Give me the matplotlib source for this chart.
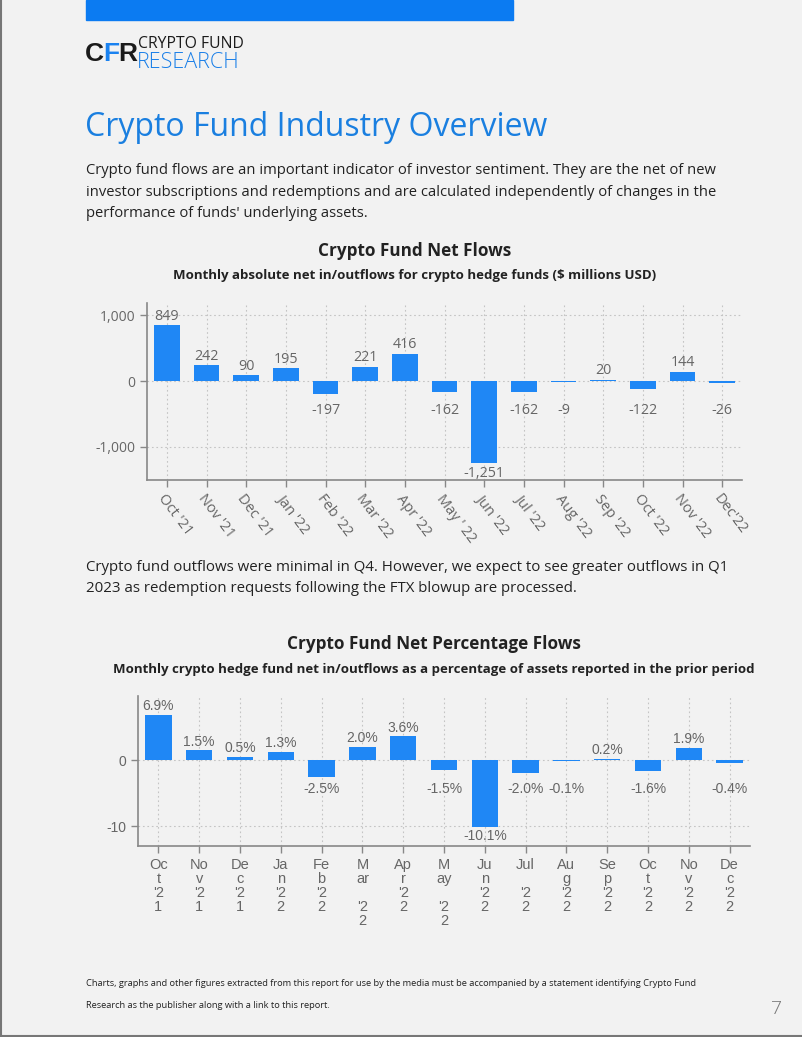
import matplotlib
matplotlib.use("Agg")
import matplotlib.pyplot as plt
from matplotlib.lines import Line2D

W, H = 802, 1037

months = ["Oct '21", "Nov '21", "Dec '21", "Jan '22", "Feb '22", "Mar '22", "Apr '22",
          "May ' 22", "Jun '22", "Jul '22", "Aug '22", "Sep '22", "Oct '22", "Nov '22", "Dec'22"]
net_flows = [849, 242, 90, 195, -197, 221, 416, -162, -1251, -162, -9, 20, -122, 144, -26]
net_flow_labels = ["849", "242", "90", "195", "-197", "221", "416", "-162", "-1,251",
                   "-162", "-9", "20", "-122", "144", "-26"]

pct_months = ["Oc\nt\n'2\n1", "No\nv\n'2\n1", "De\nc\n'2\n1", "Ja\nn\n'2\n2", "Fe\nb\n'2\n2",
              "M\nar\n\n'2\n2", "Ap\nr\n'2\n2", "M\nay\n\n'2\n2", "Ju\nn\n'2\n2", "Jul\n\n'2\n2",
              "Au\ng\n'2\n2", "Se\np\n'2\n2", "Oc\nt\n'2\n2", "No\nv\n'2\n2", "De\nc\n'2\n2"]
pct_flows = [6.9, 1.5, 0.5, 1.3, -2.5, 2.0, 3.6, -1.5, -10.1, -2.0, -0.1, 0.2, -1.6, 1.9, -0.4]

BG = "#f2f2f2"
BLUE = "#1f87f5"
TXT = "#222222"
GREY = "#666666"
ARIAL = ["Liberation Sans", "DejaVu Sans"]

plt.rcParams["font.family"] = ["Open Sans", "DejaVu Sans"]

fig = plt.figure(figsize=(W / 100, H / 100), dpi=100, facecolor=BG)


def px(x, y):
    return x / W, 1 - y / H


def ftext(x, y, s, **kw):
    fx, fy = px(x, y)
    return fig.text(fx, fy, s, **kw)


# page frame + header bar
fig.add_artist(Line2D([0.001, 0.001], [0, 1], color="#777777", lw=1.5, transform=fig.transFigure))
fig.add_artist(Line2D([0, 1], [0.001, 0.001], color="#777777", lw=1.5, transform=fig.transFigure))
fig.patches.append(plt.Rectangle(px(86, 20), (513 - 86) / W, 20 / H, transform=fig.transFigure,
                                 color="#0b7bf2", zorder=1))

# logo: C F R placed one after the other
renderer = fig.canvas.get_renderer()
lx = 85
for ch, col in [("C", "#1b1b1b"), ("F", "#1a82f0"), ("R", "#1b1b1b")]:
    t = ftext(lx, 54, ch, fontsize=19, fontweight="bold", color=col, va="center", ha="left",
              family=ARIAL)
    lx += t.get_window_extent(renderer).width - 1
ftext(138, 44, "CRYPTO FUND", fontsize=11.3, color="#1b1b1b", va="center", ha="left")
ftext(137, 62, "RESEARCH", fontsize=15.5, color="#1a7fe8", va="center", ha="left", fontweight="light")

# heading and text
ftext(85, 127, "Crypto Fund Industry Overview", fontsize=23, color="#1a7fe0", va="center")
para1 = ("Crypto fund flows are an important indicator of investor sentiment. They are the net of new\n"
         "investor subscriptions and redemptions and are calculated independently of changes in the\n"
         "performance of funds' underlying assets.")
ftext(86, 192, para1, fontsize=10.6, color=TXT, va="center", linespacing=1.6)
para2 = ("Crypto fund outflows were minimal in Q4. However, we expect to see greater outflows in Q1\n"
         "2023 as redemption requests following the FTX blowup are processed.")
ftext(86, 578, para2, fontsize=10.8, color=TXT, va="center", linespacing=1.6)

# chart 1
ftext(415, 251, "Crypto Fund Net Flows", fontsize=12.3, fontweight="bold", color=TXT,
      ha="center", va="center")
ftext(415, 276, "Monthly absolute net in/outflows for crypto hedge funds ($ millions USD)",
      fontsize=9.5, fontweight="bold", color=TXT, ha="center", va="center")

ax1 = fig.add_axes([147 / W, (H - 480) / H, (742 - 147) / W, (480 - 303) / H])
ax1.set_facecolor(BG)
x1 = list(range(len(months)))
ax1.bar(x1, net_flows, width=0.65, color=BLUE, zorder=3)
ax1.set_xlim(-0.5, 14.5)
ax1.set_ylim(-1510, 1190)
ax1.set_yticks([-1000, 0, 1000])
ax1.set_yticklabels(["-1,000", "0", "1,000"])
ax1.set_xticks(x1)
ax1.set_xticklabels(months, rotation=-53, ha="left", va="top", rotation_mode="anchor", fontsize=10.5)
for i, (v, lab) in enumerate(zip(net_flows, net_flow_labels)):
    if v >= 0:
        ax1.annotate(lab, (i, v), xytext=(0, 1), textcoords="offset points",
                     ha="center", va="bottom", fontsize=10.3, color=GREY)
    else:
        ax1.annotate(lab, (i, min(v, -300)), xytext=(0, -2), textcoords="offset points",
                     ha="center", va="top", fontsize=10.3, color=GREY)

# chart 2
ftext(434, 644, "Crypto Fund Net Percentage Flows", fontsize=12.3, fontweight="bold", color=TXT,
      ha="center", va="center")
ftext(434, 669, "Monthly crypto hedge fund net in/outflows as a percentage of assets reported in the prior period",
      fontsize=9.5, fontweight="bold", color=TXT, ha="center", va="center")

ax2 = fig.add_axes([138 / W, (H - 846) / H, (750 - 138) / W, (846 - 696) / H])
ax2.set_facecolor(BG)
x2 = list(range(len(pct_months)))
ax2.bar(x2, pct_flows, width=0.65, color=BLUE, zorder=3)
ax2.set_xlim(-0.5, 14.5)
ax2.set_ylim(-13, 9.7)
ax2.set_yticks([-10, 0])
ax2.set_yticklabels(["-10", "0"])
ax2.set_xticks(x2)
ax2.set_xticklabels(pct_months, ha="center", va="top", linespacing=1.0, family=ARIAL, fontsize=10.5)
for lab in ax2.get_yticklabels():
    lab.set_family(ARIAL)
for i, v in enumerate(pct_flows):
    s = f"{v:.1f}%"
    if v >= 0:
        ax2.annotate(s, (i, v), xytext=(0, 1), textcoords="offset points", ha="center",
                     va="bottom", fontsize=10, color=GREY, family=ARIAL)
    else:
        ax2.annotate(s, (i, min(v, -3.0)), xytext=(0, -1.5), textcoords="offset points", ha="center",
                     va="top", fontsize=10, color=GREY, family=ARIAL)

for ax in (ax1, ax2):
    for side in ("top", "right"):
        ax.spines[side].set_visible(False)
    for side in ("left", "bottom"):
        ax.spines[side].set_color("#888888")
        ax.spines[side].set_linewidth(1.2)
    ax.tick_params(colors="#888888", labelcolor=GREY, length=5, width=1)
    ax.tick_params(axis="y", labelsize=10)
    ax.grid(True, linestyle=(0, (1.5, 2.5)), color="#c4c4c4", linewidth=0.8, zorder=0)
    ax.set_axisbelow(True)

# footer
ftext(86, 984, "Charts, graphs and other figures extracted from this report for use by the media must be "
               "accompanied by a statement identifying Crypto Fund",
      fontsize=6.65, color=TXT, va="center")
ftext(86, 1005, "Research as the publisher along with a link to this report.",
      fontsize=6.65, color=TXT, va="center")
ftext(777, 1009, "7", fontsize=14, color="#777777", ha="center", va="center", fontweight="light")

fig.savefig("out.png", dpi=100, facecolor=BG)
